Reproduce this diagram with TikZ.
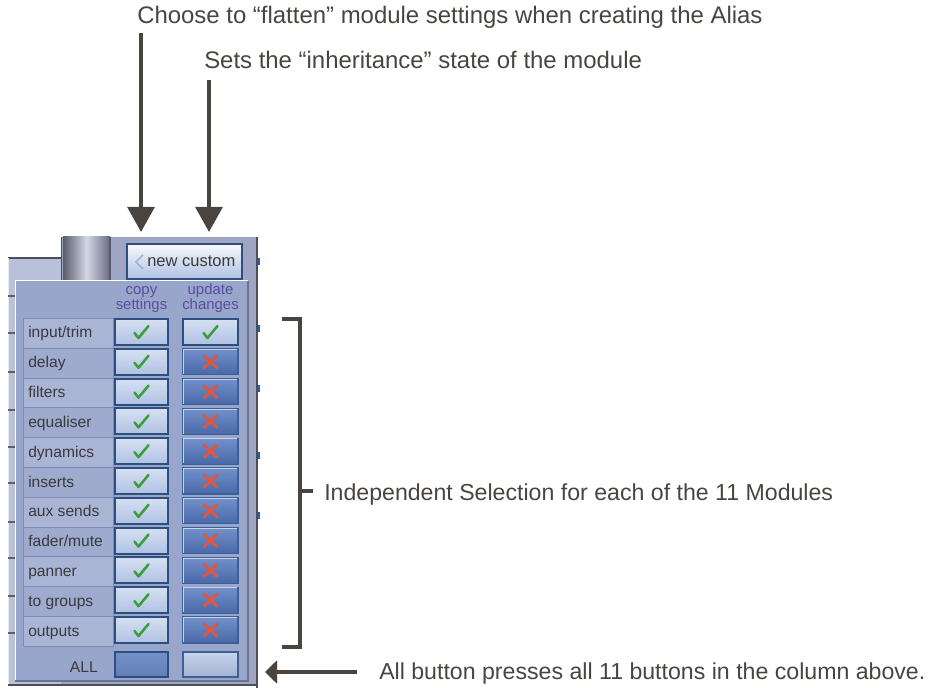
\documentclass[tikz,border=0pt]{standalone}
\usepackage{fontspec}
\setmainfont{Liberation Sans}
\usetikzlibrary{arrows.meta}
\definecolor{ink}{HTML}{4A443F}
\definecolor{panelc}{HTML}{99A6CB}
\definecolor{cellodd}{HTML}{AAB5D6}
\definecolor{celleven}{HTML}{9EAACE}
\definecolor{cellline}{HTML}{7F8BB4}
\definecolor{navy}{HTML}{2C4F80}
\definecolor{btnlttop}{HTML}{D6E0F2}
\definecolor{btnltbot}{HTML}{AFC1E3}
\definecolor{btndktop}{HTML}{7290CA}
\definecolor{btndkbot}{HTML}{4868A8}
\definecolor{btndkline}{HTML}{3E5E96}
\definecolor{chk}{HTML}{3A9E3A}
\definecolor{crs}{HTML}{E2553F}
\definecolor{hdr}{HTML}{5A4E9E}
\definecolor{gtext}{HTML}{3A3A3A}
\definecolor{guibg}{HTML}{B9C0D9}
\definecolor{guimid}{HTML}{9FA6C4}
\definecolor{guidark}{HTML}{4E4E58}
\definecolor{guiblue}{HTML}{2A5CA8}
\definecolor{chevron}{HTML}{A0B4D8}
\tikzset{
  anno/.style={font=\fontsize{17.35pt}{20pt}\selectfont, text=ink, inner sep=0pt},
  annobig/.style={anno, font=\fontsize{17.95pt}{20pt}\selectfont},
  callout/.style={draw=ink, line width=3pt, -{Triangle[length=18.75pt,width=20pt]}},
  smallcallout/.style={draw=ink, line width=3pt, -{Triangle[length=9pt,width=17pt]}},
  bracketline/.style={draw=ink, line width=3pt},
  guifont/.style={font=\fontsize{11.7pt}{13pt}\selectfont, inner sep=0pt},
  lbl/.style={guifont, text=gtext},
  hdrtxt/.style={font=\fontsize{11.2pt}{9pt}\selectfont, text=hdr, inner sep=0pt, align=center},
  cellbox/.style={draw=cellline, line width=0.6pt, minimum width=67.5pt, minimum height=22.35pt, inner sep=0pt, anchor=north west},
  cbtn/.style={draw=navy, line width=1.5pt, top color=btnlttop, bottom color=btnltbot, minimum width=39.75pt, minimum height=19.5pt, inner sep=0pt},
  ubtnlt/.style={cbtn, minimum width=41.25pt},
  ubtndk/.style={draw=btndkline, line width=0.9pt, top color=btndktop, bottom color=btndkbot, minimum width=41.25pt, minimum height=19.5pt, inner sep=0pt},
  chkmark/.style={draw=chk, line width=1.9pt, line join=round, line cap=round},
  crsmark/.style={draw=crs, line width=2.2pt, line cap=round},
}
\begin{document}
\begin{tikzpicture}[x=0.75pt,y=-0.75pt]
\useasboundingbox (0,0) rectangle (947,688);
% ---------- background GUI ----------
\fill[guibg] (8,258) rectangle (61,686);
\draw[guidark, line width=1.1pt] (8,258) -- (61,258);
\fill[guimid] (61,237) rectangle (256,686);
\shade[left color=black!45!guimid, right color=black!35!guimid, middle color=white!55!guimid] (63,237) rectangle (110,280);
\draw[guidark, line width=1.2pt] (61.5,237) -- (61.5,280);
\draw[black!45!guimid, line width=0.8pt] (110,237) -- (110,280);
\draw[guidark, line width=1.5pt] (256.5,237) -- (256.5,688);
\draw[white!70!guibg, line width=1.2pt] (8.5,258) -- (8.5,686);
\foreach \yy in {296,333,372,410,447,483,522,558,596,633}
  \draw[black!50!guibg, line width=0.8pt] (8,\yy) -- (15,\yy);
\foreach \yy in {258,325,385,452,512}
  \draw[guiblue, line width=1.5pt] (258.5,\yy) -- (258.5,{\yy+7});
\draw[guidark, line width=1.5pt] (8,685) -- (257,685);
% ---------- new custom button ----------
\node[draw=navy, line width=1.6pt, top color=white!80!btnlttop, bottom color=btnltbot, minimum width=86.25pt, minimum height=26.25pt, inner sep=0pt, anchor=north west] (newbtn) at (126,243) {};
\draw[chevron, line width=1.2pt] (143,255) -- (136,262) -- (143,269);
\node[guifont, font=\fontsize{12.4pt}{14pt}\selectfont, text=gtext, anchor=base west] (newtxt) at (147,267) {new custom};
% ---------- panel ----------
\fill[panelc] (15,280) rectangle (248,681);
\draw[white, line width=1.2pt] (15.5,681) -- (15.5,280.5) -- (248,280.5);
\draw[black!30!panelc, line width=0.8pt] (248,281) -- (248,681) -- (15,681);
\node[hdrtxt, anchor=base] (h1) at (141.5,310) {copy\\settings};
\node[hdrtxt, anchor=base] (h2) at (210.5,310) {update\\changes};
\foreach \lab [count=\i] in {{input/trim},{delay},{filters},{equaliser},{dynamics},{inserts},{aux sends},{fader/mute},{panner},{to groups},{outputs}} {
  \pgfmathsetmacro\ry{318+29.8*(\i-1)}
  \pgfmathparse{int(mod(\i,2))}
  \ifnum\pgfmathresult=1
    \node[cellbox, fill=cellodd] (cell\i) at (23,\ry) {};
  \else
    \node[cellbox, fill=celleven] (cell\i) at (23,\ry) {};
  \fi
  \node[lbl, anchor=base west] (lab\i) at (28,{\ry+20}) {\lab};
  \node[cbtn] (c\i) at (141.5,{\ry+14}) {};
  \draw[chkmark, shift={(c\i.center)}] (-7,1) -- (-3,6) -- (7,-6);
  \ifnum\i=1
    \node[ubtnlt] (u\i) at (210.5,{\ry+14}) {};
    \draw[chkmark, shift={(u\i.center)}] (-7,1) -- (-3,6) -- (7,-6);
  \else
    \node[ubtndk] (u\i) at (210.5,{\ry+14}) {};
    \draw[white!60!btndktop, line width=0.8pt] ([xshift=1pt,yshift=1pt]u\i.south west) -- ([xshift=1pt,yshift=-1pt]u\i.north west) -- ([xshift=-1pt,yshift=-1pt]u\i.north east);
    \draw[crsmark, shift={(u\i.center)}] (-6.5,-6) -- (6.5,6) (-6.5,6) -- (6.5,-6);
  \fi
}
\node[lbl, anchor=base east] (alltxt) at (98,672) {ALL};
\node[draw=navy, line width=1.5pt, top color=btndktop, bottom color=btndkbot!85!white, minimum width=39.75pt, minimum height=18.75pt, inner sep=0pt] (callbtn) at (141.5,664.5) {};
\node[draw=btndkline, line width=0.9pt, top color=white!30!btnltbot, bottom color=black!8!btnltbot, minimum width=41.25pt, minimum height=18.75pt, inner sep=0pt] (uallbtn) at (210.5,664.5) {};
% ---------- annotations ----------
\node[annobig, anchor=base west] (t1) at (137,24) {Choose to “flatten” module settings when creating the Alias};
\node[annobig, anchor=base west] (t2) at (204,69) {Sets the “inheritance” state of the module};
\node[anno, anchor=base west] (t3) at (324,500) {Independent Selection for each of the 11 Modules};
\node[anno, anchor=base west] (t4) at (379,679) {All button presses all 11 buttons in the column above.};
\coordinate (a1s) at (141,33);
\coordinate (a1e) at (141,232);
\coordinate (a2s) at (209,80);
\coordinate (a2e) at (209,232);
\draw[callout] (a1s) -- (a1e);
\draw[callout] (a2s) -- (a2e);
\coordinate (bt) at (282,319);
\coordinate (bb) at (282,647);
\coordinate (bm) at (313,491);
\draw[bracketline, line join=miter] (bt) -- (300,319) -- (300,647) -- (bb);
\draw[bracketline] (300,491) -- (bm);
\coordinate (a3s) at (357,672);
\coordinate (a3e) at (265,672);
\draw[smallcallout] (a3s) -- (a3e);
\end{tikzpicture}
\end{document}
